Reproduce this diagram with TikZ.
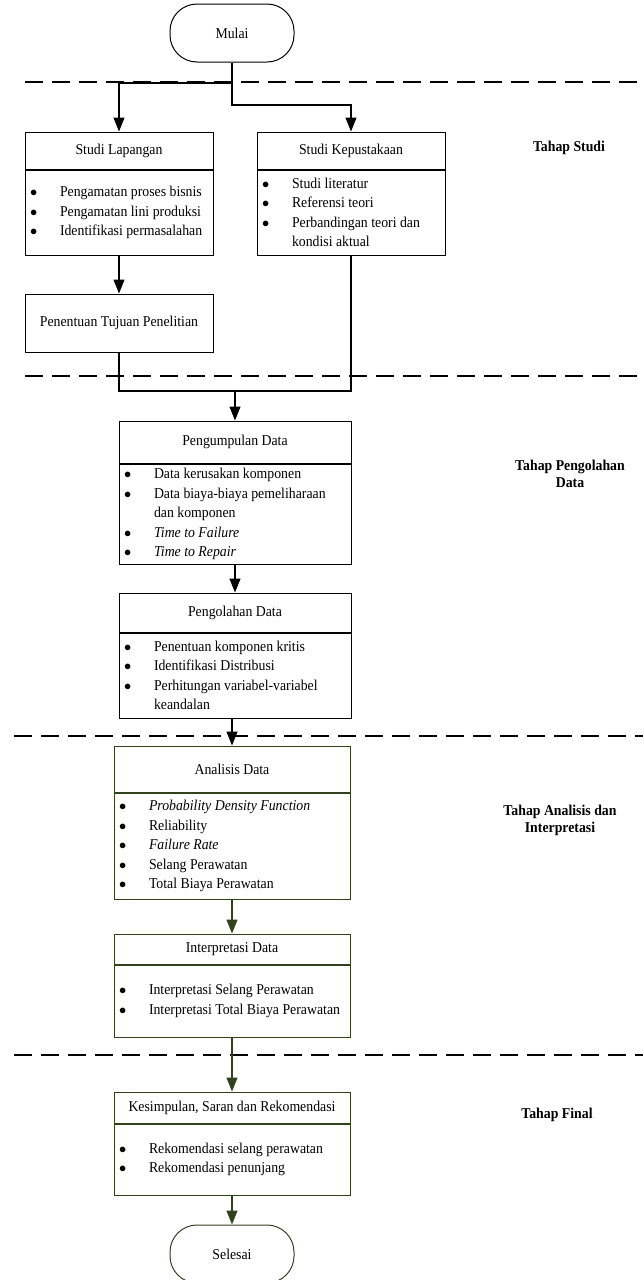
\documentclass[tikz,border=0pt]{standalone}
\usepackage{fontspec}
\setmainfont[FakeStretch=0.92]{Liberation Serif}
\usepackage{xcolor}
\usepackage{tikz}
\usetikzlibrary{arrows.meta, positioning, calc}

\definecolor{olivedark}{RGB}{50,66,30}
\newcommand{\bl}{\makebox[30pt][l]{$\bullet$}}
\newcommand{\cont}{\hspace*{30pt}}

\begin{document}
\begin{tikzpicture}[
    x=1pt, y=-1pt,
    font=\fontsize{15}{19.5}\selectfont,
    term/.style={rectangle, draw, line width=1pt, rounded corners=27pt, minimum width=124pt, minimum height=58pt},
    head/.style 2 args={rectangle, draw, line width=1pt, minimum height=#1, minimum width=#2},
    body/.style 2 args={rectangle, draw, line width=1pt, minimum height=#1, text width=#2, inner xsep=5pt, inner ysep=0pt, align=flush left},
    arrow/.style={-{Triangle[length=14pt,width=11pt]}, line width=1.2pt},
    link/.style={line width=1.2pt},
    phase/.style={dash pattern=on 18pt off 9pt, line width=1.5pt},
    stage/.style={font=\fontsize{15}{17}\selectfont\bfseries, align=center}
]
\useasboundingbox (0,0) rectangle (643,1280);

\foreach \x/\y in {25/82, 25/376, 14/736, 14/1055}
    \draw[phase] (\x,\y) -- (643,\y);

\node[term] (mu) at (232,33) {Mulai};

\node[head={37pt}{188pt}] (sl) at (119,150.5) {Studi Lapangan};
\node[body={85pt}{178pt}, below=0pt of sl] (slb) {\bl Pengamatan proses bisnis\\ \bl Pengamatan lini produksi\\ \bl Identifikasi permasalahan};

\node[head={37pt}{188pt}] (sk) at (351,150.5) {Studi Kepustakaan};
\node[body={85pt}{178pt}, below=0pt of sk] (skb) {\bl Studi literatur\\ \bl Referensi teori\\ \bl Perbandingan teori dan\\ \cont kondisi aktual};

\node[head={58pt}{188pt}] (pt) at (119,323) {Penentuan Tujuan Penelitian};

\node[head={42pt}{232pt}] (pg) at (235,442) {Pengumpulan Data};
\node[body={100pt}{222pt}, below=0pt of pg] (pgb) {\bl Data kerusakan komponen\\ \bl Data biaya-biaya pemeliharaan\\ \cont dan komponen\\ \bl \textit{Time to Failure}\\ \bl \textit{Time to Repair}};

\node[head={39pt}{232pt}] (po) at (235,612.5) {Pengolahan Data};
\node[body={85pt}{222pt}, below=0pt of po] (pob) {\bl Penentuan komponen kritis\\ \bl Identifikasi Distribusi\\ \bl Perhitungan variabel-variabel\\ \cont keandalan};

\node[head={46pt}{236pt}, olivedark, text=black] (an) at (232,769) {Analisis Data};
\node[body={106pt}{226pt}, olivedark, text=black, below=0pt of an] (anb) {\bl \textit{Probability Density Function}\\ \bl Reliability\\ \bl \textit{Failure Rate}\\ \bl Selang Perawatan\\ \bl Total Biaya Perawatan};

\node[head={30pt}{236pt}, olivedark, text=black] (ip) at (232,949) {Interpretasi Data};
\node[body={72pt}{226pt}, olivedark, text=black, below=0pt of ip] (ipb) {\bl Interpretasi Selang Perawatan\\ \bl Interpretasi Total Biaya Perawatan};

\node[head={31pt}{236pt}, olivedark, text=black] (ks) at (232,1107.5) {Kesimpulan, Saran dan Rekomendasi};
\node[body={71pt}{226pt}, olivedark, text=black, below=0pt of ks] (ksb) {\bl Rekomendasi selang perawatan\\ \bl Rekomendasi penunjang};

\node[term, olivedark, text=black] (se) at (232,1254) {Selesai};

\node[stage] (t1) at (569,148) {Tahap Studi};
\node[stage] (t2) at (570,473.5) {Tahap Pengolahan\\Data};
\node[stage] (t3) at (560,820) {Tahap Analisis dan\\Interpretasi};
\node[stage] (t4) at (557,1115) {Tahap Final};

\coordinate (j1) at (232,83);
\coordinate (j2) at (232,105);
\coordinate (j3) at (235,391);

\draw[arrow] (mu.south) -- (j1) -| (sl.north);
\draw[arrow] (j1) -- (j2) -| (sk.north);
\draw[arrow] (slb.south) -- (pt.north);
\draw[link] (pt.south) |- (j3) -| (skb.south);
\draw[arrow] (j3) -- (pg.north);
\draw[arrow] (pgb.south) -- (po.north);
\draw[arrow] (an.north |- pob.south) -- (an.north);
\draw[arrow, olivedark] (anb.south) -- (ip.north);
\draw[arrow, olivedark] (ipb.south) -- (ks.north);
\draw[arrow, olivedark] (ksb.south) -- (se.north);
\end{tikzpicture}
\end{document}
